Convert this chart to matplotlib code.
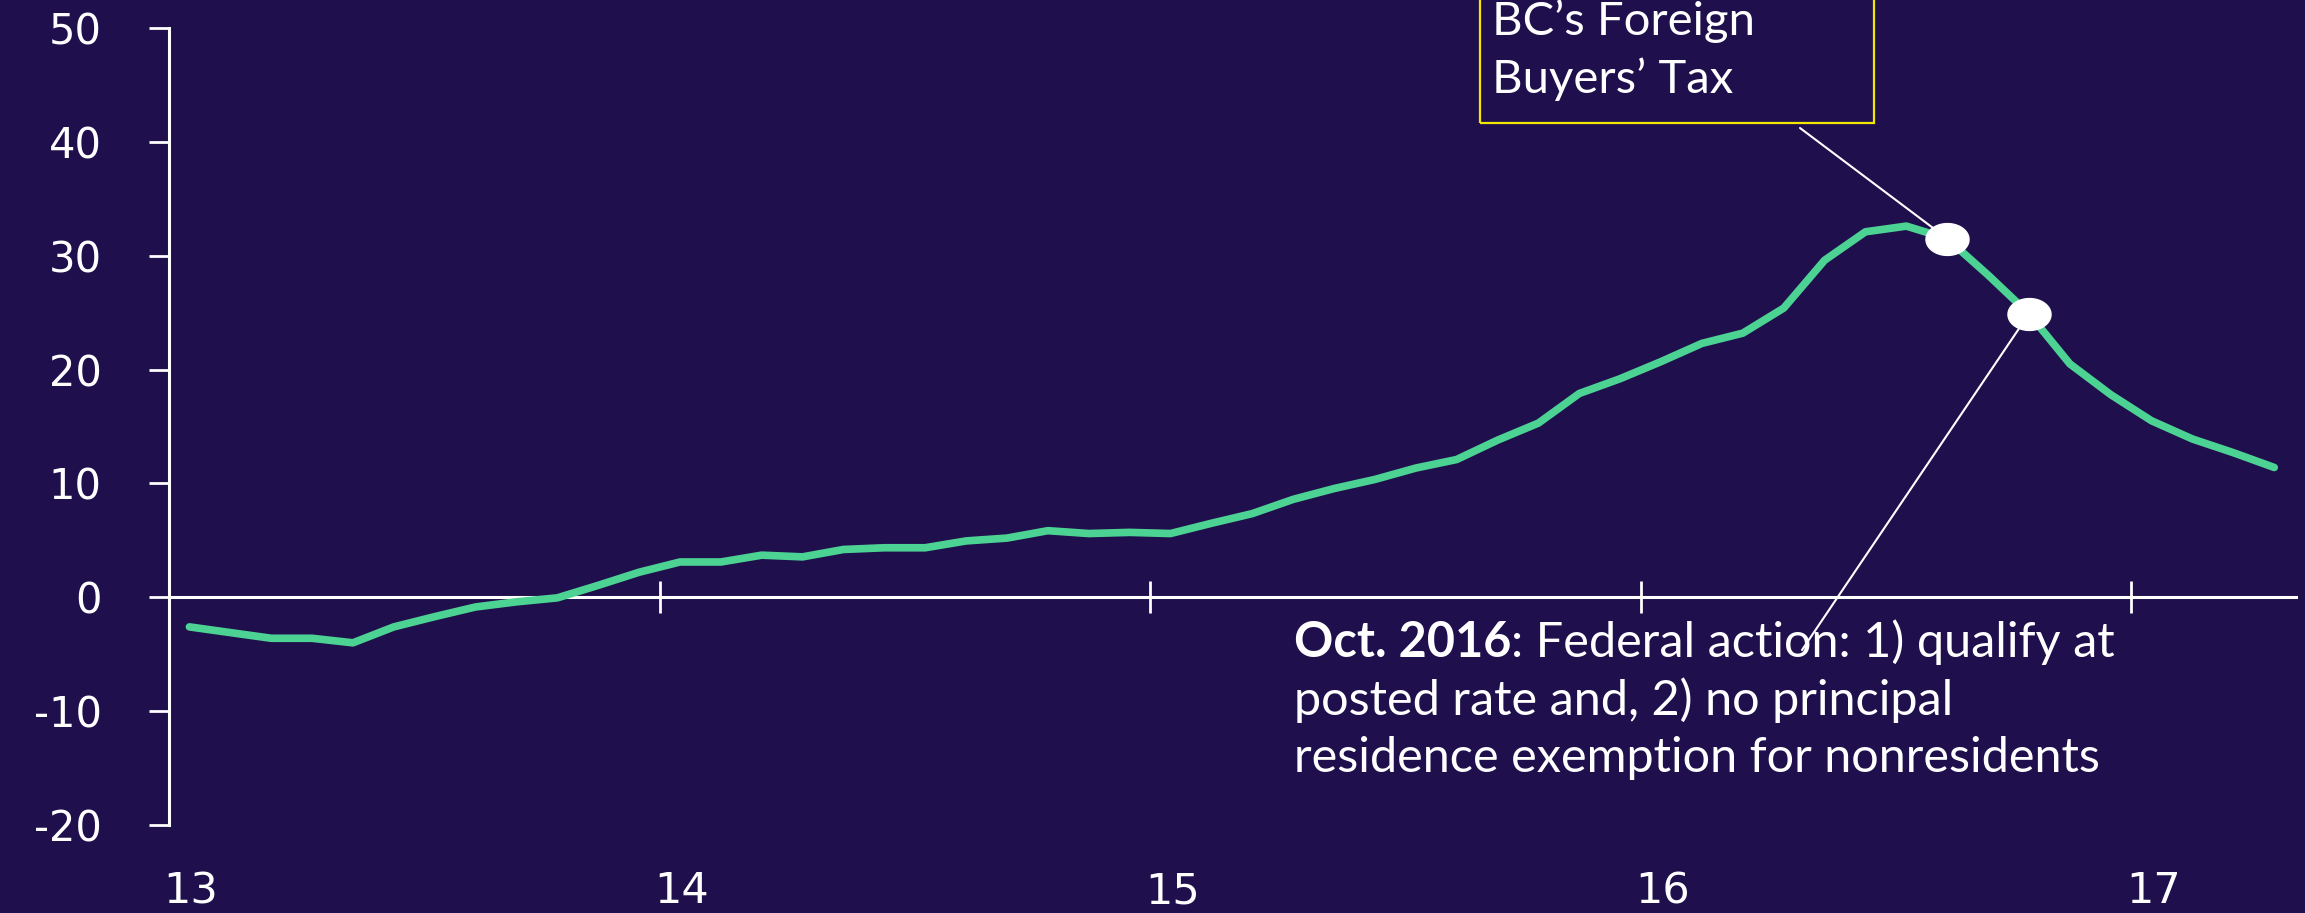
import matplotlib
matplotlib.use("Agg")
import matplotlib.pyplot as plt
import numpy as np
from matplotlib.path import Path
from matplotlib.patches import Rectangle
from matplotlib.transforms import blended_transform_factory

W, H, DPI = 2305, 913, 100

BG = "#1f0f4c"
GREEN = "#4cd394"
YELLOW = "#f0e800"

# monthly series, Jan 2013 .. Apr 2017
start_year = 2013
values = [
    -2.6, -3.1, -3.6, -3.6, -4.0, -2.6, -1.7, -0.85, -0.4, -0.05, 1.05, 2.2,   # 2013
    3.1, 3.1, 3.7, 3.55, 4.2, 4.35, 4.35, 4.95, 5.2, 5.85, 5.6, 5.7,           # 2014
    5.6, 6.5, 7.35, 8.6, 9.55, 10.35, 11.35, 12.1, 13.8, 15.3, 17.9, 19.2,     # 2015
    20.7, 22.3, 23.2, 25.4, 29.6, 32.1, 32.6, 31.5, 28.3, 24.9, 20.5, 17.8,    # 2016
    15.5, 13.9, 12.7, 11.4,                                                    # 2017
]
year_labels = ["13", "14", "15", "16", "17"]
year_ticks = [2014, 2015, 2016, 2017]
y_ticks = [-20, -10, 0, 10, 20, 30, 40, 50]

# event months (index into the series)
bc_tax_idx = 3 * 12 + 7      # Aug 2016
federal_idx = 3 * 12 + 9     # Oct 2016

box_lines = ["BC\u2019s Foreign", "Buyers\u2019 Tax"]
note_bold = "Oct. 2016"
note_lines = [": Federal action: 1) qualify at",
              "posted rate and, 2) no principal",
              "residence exemption for nonresidents"]

x = [start_year + (i + 0.5) / 12 for i in range(len(values))]

fig = plt.figure(figsize=(W / DPI, H / DPI), dpi=DPI, facecolor=BG)
ax = fig.add_axes([169 / W, 1 - 825 / H, (2296 - 169) / W, (825 - 28) / H])
ax.set_facecolor(BG)

ax.plot(x, values, color=GREEN, lw=5.5, solid_capstyle="round", zorder=3)

ax.set_xlim(2013, 2017.336)
ax.set_ylim(-20, 50)

for s in ["top", "right"]:
    ax.spines[s].set_visible(False)
ax.spines["bottom"].set_position(("data", 0))
for s in ["left", "bottom"]:
    ax.spines[s].set_color("white")
    ax.spines[s].set_linewidth(2.2)

ax.set_yticks(y_ticks)
ax.set_yticklabels([str(v) for v in y_ticks])
ax.tick_params(axis="y", direction="out", length=14.5, width=2, color="white",
               labelcolor="white", labelsize=30, pad=34)
for lab in ax.get_yticklabels():
    lab.set_fontfamily("DejaVu Sans")

ax.set_xticks(year_ticks)
ax.tick_params(axis="x", direction="inout", length=23, width=2, color="white",
               labelbottom=False)

# year labels along the bottom edge of the figure
tr = blended_transform_factory(ax.transData, fig.transFigure)
for yr, lab in zip(range(2013, 2018), year_labels):
    ax.text(yr + 0.045, 1 - 891 / H, lab, transform=tr, ha="center", va="center",
            color="white", fontsize=31, family="DejaVu Sans", clip_on=False)

# event dots (ellipse marker)
t = np.linspace(0, 2 * np.pi, 80)
ellipse = Path(np.column_stack([np.cos(t), 0.74 * np.sin(t)]), closed=True)
for idx in [bc_tax_idx, federal_idx]:
    ax.plot(x[idx], values[idx], marker=ellipse, ms=31, color="white",
            mec="white", ls="none", zorder=5, clip_on=False)

# leader lines
ax.annotate("", xy=(x[bc_tax_idx], values[bc_tax_idx]),
            xytext=(1800 / W, 1 - 128 / H), textcoords="figure fraction",
            arrowprops=dict(arrowstyle="-", color="white", lw=1.5,
                            shrinkA=0, shrinkB=0), zorder=4)
ax.annotate("", xy=(x[federal_idx], values[federal_idx]),
            xytext=(1802 / W, 1 - 650 / H), textcoords="figure fraction",
            arrowprops=dict(arrowstyle="-", color="white", lw=1.5,
                            shrinkA=0, shrinkB=0), zorder=4)

# BC box
fig.add_artist(Rectangle((1480 / W, 1 - 123 / H), (1874 - 1480) / W, 0.3,
                         transform=fig.transFigure, fill=False, ec=YELLOW,
                         lw=1.6, clip_on=False))
for line, base in zip(box_lines, [35, 93]):
    fig.text(1492 / W, 1 - base / H, line, color="white", fontsize=34,
             family="Lato", va="baseline", ha="left")

# federal note
fs = 35
tb = fig.text(1294 / W, 1 - 657 / H, note_bold, color="white", fontsize=fs,
              family="Lato", weight="bold", va="baseline", ha="left")
fig.canvas.draw()
bb = tb.get_window_extent(renderer=fig.canvas.get_renderer())
fig.text(bb.x1 / W, 1 - 657 / H, note_lines[0], color="white", fontsize=fs,
         family="Lato", va="baseline", ha="left")
for line, base in zip(note_lines[1:], [715, 772]):
    fig.text(1294 / W, 1 - base / H, line, color="white", fontsize=fs,
             family="Lato", va="baseline", ha="left")

fig.savefig("out.png", dpi=DPI, facecolor=BG)
